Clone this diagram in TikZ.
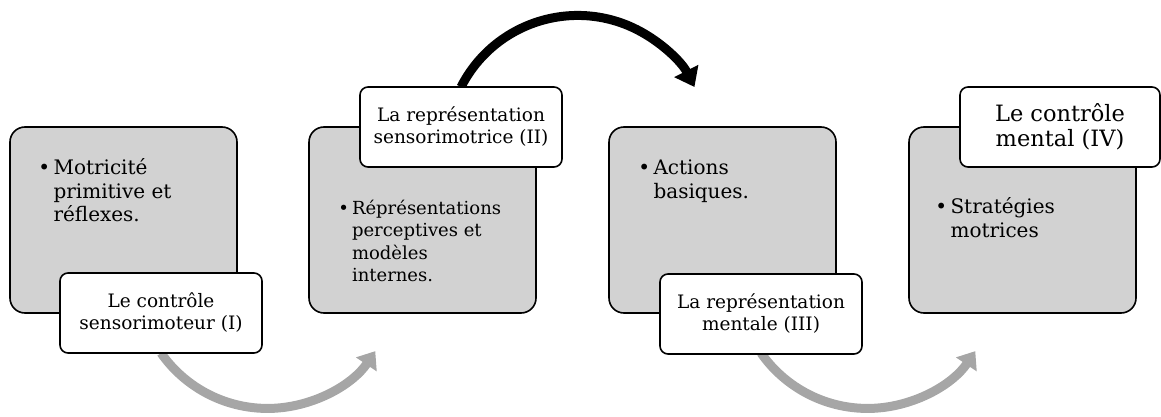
\documentclass[tikz,border=0pt]{standalone}
\usepackage{fontspec}
\setmainfont{DejaVu Serif}
\usepackage{tikz}
\usetikzlibrary{arrows.meta, positioning}
\definecolor{boxgray}{RGB}{210,210,210}
\definecolor{arrowgray}{RGB}{166,166,166}

\tikzset{
  stagebox/.style={draw=black, line width=1.6pt, fill=boxgray, rounded corners=15pt,
    minimum width=227pt, minimum height=186pt, inner sep=0pt},
  tagbox/.style={draw=black, line width=1.6pt, fill=white, rounded corners=8pt,
    minimum width=202pt, minimum height=80pt, inner sep=0pt, align=center,
    font=\fontsize{18.5}{22}\selectfont},
  itemtext/.style={inner sep=0pt, font=\fontsize{20}{23.5}\selectfont},
  grayflow/.style={arrowgray, line width=9pt, -{Triangle[width=24pt,length=16pt]}},
  blackflow/.style={black, line width=9pt, -{Triangle[width=26pt,length=18pt]}}
}

\begin{document}
\begin{tikzpicture}[x=1pt, y=1pt]
        \useasboundingbox (0,0) rectangle (1161,416);

        % arcs behind the boxes
        \coordinate (a1) at (161,63);
        \coordinate (a3) at (761,63);
        \draw[grayflow] (a1) arc[start angle=215, end angle=326, radius=130];
        \draw[grayflow] (a3) arc[start angle=215, end angle=326, radius=130];
        \coordinate (a2) at (461,329);
        \draw[blackflow] (a2) arc[start angle=153, end angle=27, radius=131];

        % stages
        \node[stagebox] (b1) at (123.5,196) {};
        \node[stagebox] (b2) at (422.5,196) {};
        \node[stagebox] (b3) at (722.5,196) {};
        \node[stagebox] (b4) at (1022.5,196) {};

        \node[itemtext, below right=32pt and 29pt of b1.north west] (t1)
          {\begin{tabular}{@{}l@{\,}l@{}}\textbullet & Motricité\\ & primitive et\\ & réflexes.\end{tabular}};
        \node[itemtext, below right=72pt and 30pt of b2.north west, font=\fontsize{18}{22.5}\selectfont] (t2)
          {\begin{tabular}{@{}l@{\,}l@{}}\textbullet & Réprésentations\\ & perceptives et\\ & modèles\\ & internes.\end{tabular}};
        \node[itemtext, below right=32pt and 30pt of b3.north west] (t3)
          {\begin{tabular}{@{}l@{\,}l@{}}\textbullet & Actions\\ & basiques.\end{tabular}};
        \node[itemtext, below right=71pt and 27pt of b4.north west] (t4)
          {\begin{tabular}{@{}l@{\,}l@{}}\textbullet & Stratégies\\ & motrices\end{tabular}};

        % titles
        \node[tagbox] (l1) at (161,103) {Le contrôle\\sensorimoteur (I)};
        \node[tagbox] (l2) at (461,289) {La représentation\\sensorimotrice (II)};
        \node[tagbox] (l3) at (761,102) {La représentation\\mentale (III)};
        \node[tagbox, minimum width=200pt, font=\fontsize{22.5}{25.5}\selectfont] (l4) at (1060,289) {Le contrôle\\mental (IV)};
\end{tikzpicture}
\end{document}
